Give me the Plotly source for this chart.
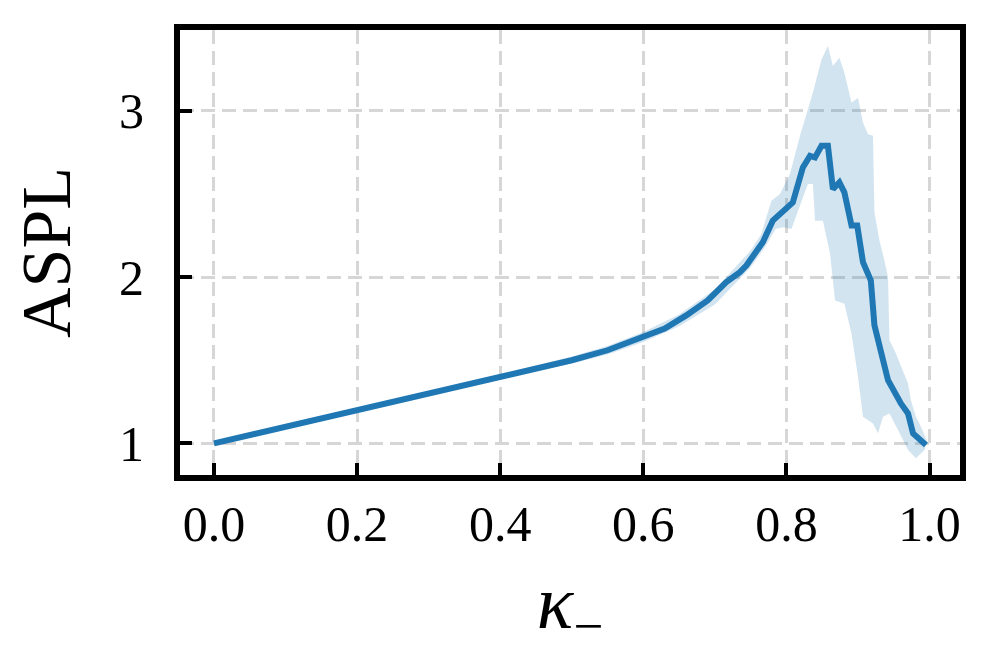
import plotly.graph_objects as go

# mean ASPL curve
kappa = [0.00, 0.10, 0.20, 0.30, 0.40, 0.50, 0.55, 0.60, 0.63, 0.66, 0.69, 0.716, 0.735,
         0.744, 0.767, 0.781, 0.795, 0.809, 0.823, 0.833, 0.840, 0.849, 0.858, 0.865,
         0.874, 0.881, 0.891, 0.899, 0.907, 0.918, 0.923, 0.935, 0.942, 0.960, 0.970,
         0.977, 0.983, 0.995]
aspl = [1.00, 1.10, 1.20, 1.30, 1.40, 1.50, 1.56, 1.64, 1.69, 1.77, 1.86, 1.97, 2.03,
        2.07, 2.21, 2.34, 2.39, 2.45, 2.66, 2.73, 2.72, 2.79, 2.79, 2.53,
        2.57, 2.51, 2.31, 2.31, 2.09, 1.98, 1.71, 1.52, 1.38, 1.24, 1.18,
        1.06, 1.04, 0.99]

# spread band, upper edge
upper_k = [0.00, 0.10, 0.20, 0.30, 0.40, 0.50, 0.55, 0.60, 0.65, 0.70, 0.73, 0.75, 0.765,
           0.779, 0.791, 0.805, 0.819, 0.830, 0.837, 0.849, 0.858, 0.865, 0.874, 0.881,
           0.891, 0.900, 0.907, 0.914, 0.921, 0.923, 0.930, 0.937, 0.942, 0.944, 0.953,
           0.970, 0.974, 0.981, 0.986, 0.997]
upper_v = [1.012, 1.112, 1.212, 1.312, 1.414, 1.522, 1.585, 1.670, 1.775, 1.925, 2.07, 2.16, 2.26,
           2.46, 2.50, 2.62, 2.85, 3.00, 3.11, 3.31, 3.39, 3.27, 3.32, 3.23,
           3.05, 3.08, 2.93, 2.86, 2.85, 2.39, 2.22, 2.10, 2.00, 1.62, 1.54,
           1.36, 1.26, 1.16, 1.12, 1.01]

# spread band, lower edge
lower_k = [0.00, 0.10, 0.20, 0.30, 0.40, 0.50, 0.55, 0.60, 0.65, 0.70, 0.73, 0.75, 0.77,
           0.785, 0.795, 0.807, 0.818, 0.830, 0.837, 0.840, 0.851, 0.861, 0.868, 0.881,
           0.891, 0.900, 0.907, 0.921, 0.928, 0.935, 0.944, 0.956, 0.970, 0.981, 0.993]
lower_v = [0.988, 1.088, 1.188, 1.288, 1.386, 1.480, 1.535, 1.610, 1.705, 1.835, 1.97, 2.06, 2.18,
           2.29, 2.30, 2.29, 2.42, 2.56, 2.56, 2.34, 2.34, 2.14, 1.86, 1.84,
           1.66, 1.40, 1.16, 1.12, 1.06, 1.16, 1.18, 1.08, 0.96, 0.91, 0.96]

x_ticks = [0.0, 0.2, 0.4, 0.6, 0.8, 1.0]
y_ticks = [1, 2, 3]

blue = "#1f77b4"
font = "Liberation Serif"

fig = go.Figure()
fig.add_trace(go.Scatter(
    x=upper_k + lower_k[::-1], y=upper_v + lower_v[::-1],
    fill="toself", fillcolor="rgba(31,119,180,0.2)", line=dict(width=0),
    mode="lines", hoverinfo="skip", showlegend=False))
fig.add_trace(go.Scatter(x=kappa, y=aspl, mode="lines",
                         line=dict(color=blue, width=6), showlegend=False))

axis_style = dict(showline=True, linewidth=6, linecolor="black", mirror=True,
                  ticks="inside", ticklen=12, tickwidth=4, tickcolor="black",
                  showgrid=True, gridcolor="#d6d6d6", gridwidth=3, griddash="14px,7px",
                  zeroline=False, tickfont=dict(family=font, size=50, color="black"))

fig.update_xaxes(range=[-0.0475, 1.0426], tickvals=x_ticks, ticktext=[f"{v:.1f}" for v in x_ticks],
                 ticklabelstandoff=0,
                 title=dict(text="<i>κ</i><sub>−</sub>", font=dict(family=font, size=76, color="black"),
                            standoff=26),
                 **axis_style)
fig.update_yaxes(range=[0.8095, 3.487], tickvals=y_ticks, ticktext=[str(v) for v in y_ticks],
                 ticklabelstandoff=20,
                 title=dict(text="ASPL", font=dict(family=font, size=70, color="black"),
                            standoff=38),
                 **axis_style)

# page body adds ~8px offset, so margins are shifted up/left to compensate
fig.update_layout(width=999, height=669, autosize=False,
                  margin=dict(l=171.5, r=47, t=21.5, b=202),
                  plot_bgcolor="white", paper_bgcolor="white")

fig.write_html("out.html")
